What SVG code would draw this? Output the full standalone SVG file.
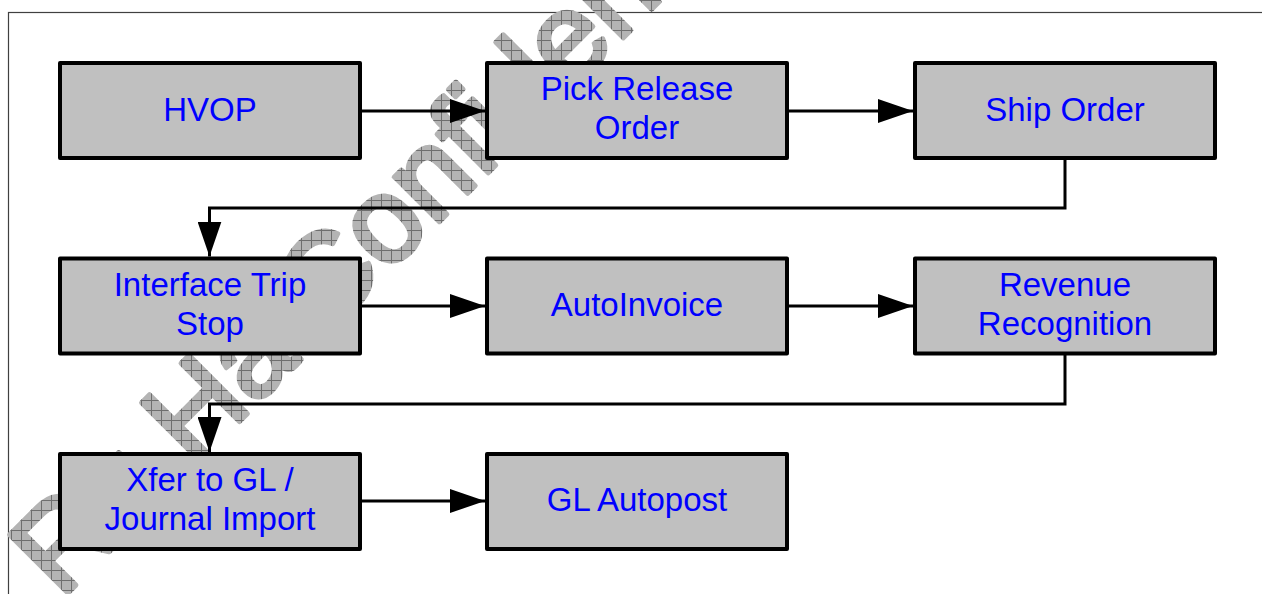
<svg xmlns="http://www.w3.org/2000/svg" width="1262" height="594" viewBox="0 0 1262 594">
  <defs>
    <pattern id="hatch" patternUnits="userSpaceOnUse" width="10" height="10" patternTransform="rotate(45)">
      <rect width="10" height="10" fill="#b4b4b4"/>
      <path d="M0,0.5 H10 M0.5,0 V10" stroke="#6e6e6e" stroke-width="1" fill="none"/>
    </pattern>
    <marker id="arrow" viewBox="0 0 35 24" refX="35" refY="12" markerWidth="35" markerHeight="24" markerUnits="userSpaceOnUse" orient="auto">
      <path d="M0,0 L35,12 L0,24 Z" fill="#000"/>
    </marker>
  </defs>
  <style>
    .box { fill: #c0c0c0; stroke: #000; stroke-width: 4; stroke-linejoin: round; }
    .lbl { font-family: "Liberation Sans", Arial, sans-serif; font-size: 33px; fill: #0000ff; text-anchor: middle; }
    .conn { fill: none; stroke: #000; stroke-width: 3; marker-end: url(#arrow); }
    .wm { font-family: "Liberation Sans", Arial, sans-serif; font-size: 120px; fill: url(#hatch); stroke: url(#hatch); stroke-width: 5; stroke-linejoin: round; }
  </style>
  <rect x="0" y="0" width="1262" height="594" fill="#fff"/>
  <rect x="8.5" y="12.5" width="1300" height="620" fill="none" stroke="#404040" stroke-width="1.2"/>

  <g id="watermark" transform="translate(61,600) rotate(-45)">
    <text class="wm" x="0" y="0">Ru Ha Confidential</text>
  </g>

  <g id="connectors">
    <path class="conn" d="M362,111 H485"/>
    <path class="conn" d="M789,111 H913"/>
    <path class="conn" d="M1065,160 V208 H209.5 V256.5"/>
    <path class="conn" d="M362,306 H485"/>
    <path class="conn" d="M789,306 H913"/>
    <path class="conn" d="M1065,355 V404 H209.5 V452"/>
    <path class="conn" d="M362,501 H485"/>
  </g>

  <g id="hvop">
    <rect class="box" x="60" y="63" width="300" height="95"/>
    <text class="lbl" x="210" y="120.5">HVOP</text>
  </g>
  <g id="pick-release-order">
    <rect class="box" x="487" y="63" width="300" height="95"/>
    <text class="lbl" x="637" y="100">Pick Release</text>
    <text class="lbl" x="637" y="139">Order</text>
  </g>
  <g id="ship-order">
    <rect class="box" x="915" y="63" width="300" height="95"/>
    <text class="lbl" x="1065" y="120.5">Ship Order</text>
  </g>
  <g id="interface-trip-stop">
    <rect class="box" x="60" y="258.5" width="300" height="95"/>
    <text class="lbl" x="210" y="295.5">Interface Trip</text>
    <text class="lbl" x="210" y="334.5">Stop</text>
  </g>
  <g id="autoinvoice">
    <rect class="box" x="487" y="258.5" width="300" height="95"/>
    <text class="lbl" x="637" y="316">AutoInvoice</text>
  </g>
  <g id="revenue-recognition">
    <rect class="box" x="915" y="258.5" width="300" height="95"/>
    <text class="lbl" x="1065" y="295.5">Revenue</text>
    <text class="lbl" x="1065" y="334.5">Recognition</text>
  </g>
  <g id="xfer-to-gl">
    <rect class="box" x="60" y="454" width="300" height="95"/>
    <text class="lbl" x="210" y="491">Xfer to GL /</text>
    <text class="lbl" x="210" y="530">Journal Import</text>
  </g>
  <g id="gl-autopost">
    <rect class="box" x="487" y="454" width="300" height="95"/>
    <text class="lbl" x="637" y="511">GL Autopost</text>
  </g>
</svg>
